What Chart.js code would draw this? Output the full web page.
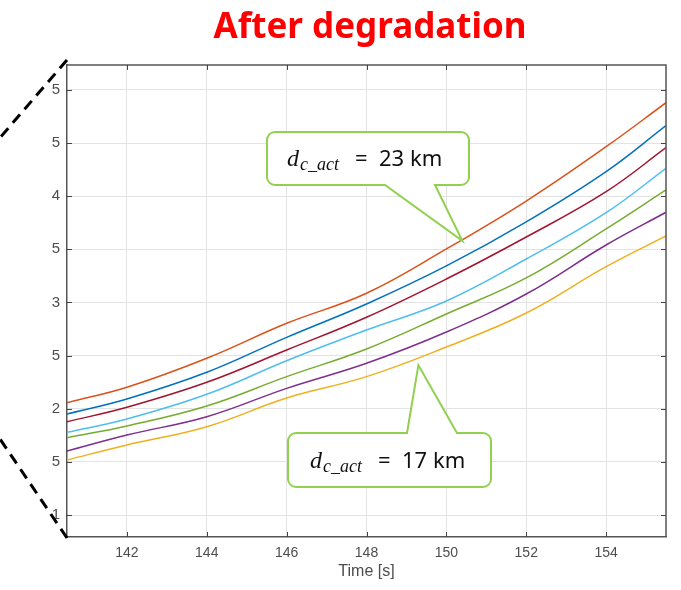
<!DOCTYPE html>
<html>
<head>
<meta charset="utf-8">
<script src="https://cdn.jsdelivr.net/npm/chart.js@4.4.1/dist/chart.umd.min.js"></script>
<style>
  html, body { margin: 0; padding: 0; background: #fff; }
  #wrap { width: 681px; height: 590px; }
</style>
</head>
<body>
<div id="wrap"><canvas id="chart" width="681" height="590"></canvas></div>
<script>
// sample times [s]
const timeS = [140.5, 142, 144, 146, 148, 150, 152, 154, 155.5];

// one curve per detection distance, top to bottom
const seriesOrange = [2.057, 2.202, 2.475, 2.804, 3.087, 3.504, 3.955, 4.466, 4.880];
const seriesBlue   = [1.951, 2.092, 2.343, 2.672, 2.986, 3.344, 3.758, 4.231, 4.664];
const seriesRed    = [1.878, 2.014, 2.249, 2.553, 2.861, 3.221, 3.616, 4.043, 4.457];
const seriesCyan   = [1.778, 1.904, 2.136, 2.452, 2.741, 3.014, 3.409, 3.845, 4.263];
const seriesGreen  = [1.728, 1.838, 2.026, 2.302, 2.562, 2.892, 3.231, 3.692, 4.059];
const seriesPurple = [1.602, 1.753, 1.925, 2.192, 2.428, 2.722, 3.080, 3.541, 3.849];
const seriesYellow = [1.518, 1.659, 1.831, 2.101, 2.302, 2.581, 2.901, 3.337, 3.626];

const xTickValues = [142, 144, 146, 148, 150, 152, 154];
const yTickValues = [1, 1.5, 2, 2.5, 3, 3.5, 4, 4.5, 5];
const yTickLabels = ['1', '5', '2', '5', '3', '5', '4', '5', '5'];

const calloutTop = ['d', 'c_act', '=', '23 km'];
const calloutBottom = ['d', 'c_act', '=', '17 km'];

const colors = ['#d95319', '#0072bd', '#a2142f', '#4dbeee', '#77ac30', '#7e2f8e', '#edb120'];
const allSeries = [seriesOrange, seriesBlue, seriesRed, seriesCyan, seriesGreen, seriesPurple, seriesYellow];

const datasets = allSeries.map((s, i) => ({
  data: s.map((v, k) => ({ x: timeS[k], y: v })),
  borderColor: colors[i],
  borderWidth: 1.5,
  pointRadius: 0,
  tension: 0.4,
  fill: false
}));

function roundedCallout(ctx, l, t, r, b, rad, tail) {
  ctx.beginPath();
  ctx.moveTo(l + rad, t);
  if (tail.side === 'top') {
    ctx.lineTo(tail.x1, t);
    ctx.lineTo(tail.tipX, tail.tipY);
    ctx.lineTo(tail.x2, t);
  }
  ctx.lineTo(r - rad, t);
  ctx.arcTo(r, t, r, t + rad, rad);
  ctx.lineTo(r, b - rad);
  ctx.arcTo(r, b, r - rad, b, rad);
  if (tail.side === 'bottom') {
    ctx.lineTo(tail.x2, b);
    ctx.lineTo(tail.tipX, tail.tipY);
    ctx.lineTo(tail.x1, b);
  }
  ctx.lineTo(l + rad, b);
  ctx.arcTo(l, b, l, b - rad, rad);
  ctx.lineTo(l, t + rad);
  ctx.arcTo(l, t, l + rad, t, rad);
  ctx.closePath();
  ctx.fillStyle = '#fff';
  ctx.fill();
  ctx.strokeStyle = '#92d050';
  ctx.lineWidth = 2;
  ctx.stroke();
}

function calloutText(ctx, parts, x, y) {
  ctx.fillStyle = '#111';
  ctx.textAlign = 'left';
  ctx.textBaseline = 'alphabetic';
  ctx.font = 'italic 24px "Liberation Serif"';
  ctx.fillText(parts[0], x, y);
  ctx.font = 'italic 18px "Liberation Serif"';
  ctx.fillText(parts[1], x + 13, y + 4);
  ctx.font = '22px "Noto Sans"';
  ctx.fillText(parts[2], x + 68, y);
  ctx.fillText(parts[3], x + 92, y);
}

const decorations = {
  id: 'decorations',
  afterDraw(chart) {
    const { ctx, chartArea: a, scales: { x, y } } = chart;
    ctx.save();

    // box outline on top and right
    ctx.strokeStyle = '#555';
    ctx.lineWidth = 1.5;
    ctx.beginPath();
    ctx.moveTo(a.left, a.top);
    ctx.lineTo(a.right, a.top);
    ctx.lineTo(a.right, a.bottom);
    ctx.stroke();

    // inward tick marks on all four sides
    ctx.strokeStyle = '#444';
    ctx.lineWidth = 1;
    ctx.beginPath();
    xTickValues.forEach(v => {
      const px = Math.round(x.getPixelForValue(v)) + 0.5;
      ctx.moveTo(px, a.bottom); ctx.lineTo(px, a.bottom - 5);
      ctx.moveTo(px, a.top); ctx.lineTo(px, a.top + 5);
    });
    yTickValues.forEach(v => {
      const py = Math.round(y.getPixelForValue(v)) + 0.5;
      ctx.moveTo(a.left, py); ctx.lineTo(a.left + 5, py);
      ctx.moveTo(a.right, py); ctx.lineTo(a.right - 5, py);
    });
    ctx.stroke();

    // zoom guide lines
    ctx.strokeStyle = '#000';
    ctx.lineWidth = 3;
    ctx.setLineDash([11, 7]);
    ctx.beginPath();
    ctx.moveTo(a.left, a.top - 5);
    ctx.lineTo(-2, 140);
    ctx.moveTo(a.left, a.bottom + 1);
    ctx.lineTo(-2, 436);
    ctx.stroke();
    ctx.setLineDash([]);

    // title
    ctx.fillStyle = '#ff0000';
    ctx.font = 'bold 35px "Noto Sans"';
    ctx.textAlign = 'center';
    ctx.textBaseline = 'alphabetic';
    ctx.fillText('After degradation', 370, 38);

    // callouts
    const tip1 = { x: x.getPixelForValue(150.4), y: y.getPixelForValue(3.58) };
    roundedCallout(ctx, 267, 132, 469, 185, 8,
      { side: 'bottom', x1: 385, x2: 435, tipX: tip1.x, tipY: tip1.y });
    calloutText(ctx, calloutTop, 287, 166);

    const tip2 = { x: x.getPixelForValue(149.3), y: y.getPixelForValue(2.41) };
    roundedCallout(ctx, 288, 433, 491, 487, 8,
      { side: 'top', x1: 407, x2: 457, tipX: tip2.x, tipY: tip2.y });
    calloutText(ctx, calloutBottom, 310, 468);

    ctx.restore();
  }
};

new Chart(document.getElementById('chart'), {
  type: 'line',
  data: { datasets },
  options: {
    responsive: false,
    animation: false,
    devicePixelRatio: 1,
    layout: { padding: { left: 0, right: 15, top: 65, bottom: 0 } },
    plugins: { legend: { display: false }, tooltip: { enabled: false } },
    scales: {
      x: {
        type: 'linear',
        min: 140.5,
        max: 155.5,
        afterBuildTicks: s => { s.ticks = xTickValues.map(v => ({ value: v })); },
        afterFit: s => { s.height = 53; },
        grid: { color: '#e3e3e3', drawTicks: false },
        border: { display: true, color: '#555', width: 1.5 },
        ticks: { padding: 8, color: '#4d4d4d', font: { family: 'Liberation Sans', size: 14 } },
        title: { display: true, text: 'Time [s]', color: '#4d4d4d', padding: { top: 0, bottom: 9 },
                 font: { family: 'Liberation Sans', size: 16 } }
      },
      y: {
        type: 'linear',
        min: 0.793,
        max: 5.235,
        afterBuildTicks: s => { s.ticks = yTickValues.map(v => ({ value: v })); },
        afterFit: s => { s.width = 67; },
        grid: { color: '#e3e3e3', drawTicks: false },
        border: { display: true, color: '#555', width: 1.5 },
        ticks: {
          padding: 7, color: '#4d4d4d', font: { family: 'Liberation Sans', size: 15 },
          callback: (v, i) => yTickLabels[i]
        }
      }
    }
  },
  plugins: [decorations]
});
</script>
</body>
</html>
